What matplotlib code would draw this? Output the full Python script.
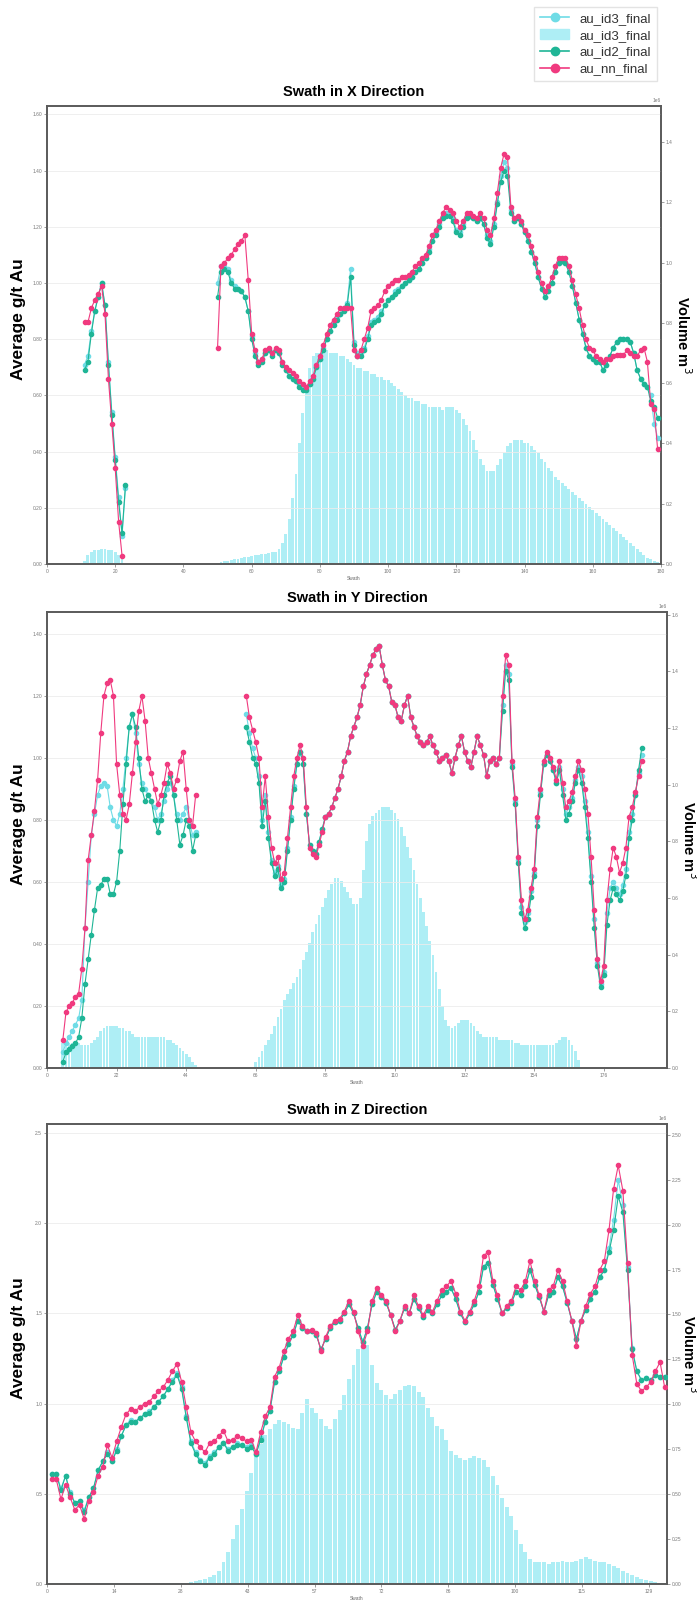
import numpy as np
import matplotlib.pyplot as plt
from matplotlib.lines import Line2D
from matplotlib.patches import Patch
from matplotlib.ticker import MultipleLocator, FixedLocator

plt.rcParams['font.family'] = ['Liberation Sans', 'DejaVu Sans']

C_ID3 = '#6fdce6'
C_VOL = '#aeeef5'
C_ID2 = '#1fb596'
C_NN = '#f03a7f'
N = None

# ---- Swath in X direction (x = 11 .. 179) ----
x_start_x = 11
nn_x = [0.86, 0.86, 0.91, 0.94, 0.96, 0.99, 0.89, 0.66, 0.50, 0.34, 0.15, 0.03, None,
        *[N] * 26,
        0.77, 1.06, 1.07, 1.09, 1.10, 1.12, 1.14, 1.15, 1.17, 1.01,
        0.82, 0.76, 0.72, 0.73, 0.76, 0.77, 0.75, 0.77, 0.76, 0.72,
        0.70, 0.69, 0.68, 0.67, 0.65, 0.64, 0.63, 0.65, 0.67, 0.71,
        0.74, 0.78, 0.82, 0.85, 0.87, 0.89, 0.91, 0.91, 0.91, 0.91,
        0.76, 0.74, 0.76, 0.80, 0.84, 0.90, 0.91, 0.92, 0.94, 0.97,
        0.99, 1.00, 1.01, 1.01, 1.02, 1.02, 1.03, 1.04, 1.06, 1.07,
        1.09, 1.10, 1.13, 1.17, 1.19, 1.22, 1.25, 1.27, 1.26, 1.25,
        1.22, 1.20, 1.22, 1.25, 1.25, 1.24, 1.23, 1.25, 1.23, 1.19,
        1.17, 1.23, 1.32, 1.41, 1.46, 1.45, 1.27, 1.23, 1.24, 1.22,
        1.19, 1.17, 1.13, 1.09, 1.04, 1.00, 0.97, 0.99, 1.02, 1.06,
        1.09, 1.09, 1.09, 1.06, 1.01, 0.96, 0.91, 0.85, 0.80, 0.77,
        0.76, 0.74, 0.73, 0.72, 0.73, 0.73, 0.74, 0.745, 0.745, 0.745,
        0.76, 0.75, 0.74, 0.74, 0.76, 0.77, 0.72, 0.57, 0.55, 0.41]
id2_x = [0.69, 0.72, 0.82, 0.90, 0.95, 1.00, 0.92, 0.71, 0.53, 0.37, 0.22, 0.11, 0.28,
         *[N] * 26,
         0.95, 1.04, 1.05, 1.04, 1.00, 0.98, 0.98, 0.97, 0.95, 0.90,
         0.80, 0.74, 0.71, 0.72, 0.75, 0.76, 0.74, 0.76, 0.75, 0.71,
         0.69, 0.67, 0.66, 0.65, 0.63, 0.62, 0.62, 0.64, 0.66, 0.70,
         0.73, 0.76, 0.80, 0.83, 0.85, 0.87, 0.89, 0.90, 0.92, 1.02,
         0.78, 0.74, 0.74, 0.76, 0.80, 0.85, 0.86, 0.87, 0.89, 0.92,
         0.94, 0.95, 0.96, 0.97, 0.99, 1.00, 1.01, 1.02, 1.04, 1.05,
         1.07, 1.09, 1.11, 1.15, 1.17, 1.20, 1.23, 1.24, 1.24, 1.22,
         1.18, 1.17, 1.20, 1.23, 1.24, 1.23, 1.22, 1.23, 1.21, 1.16,
         1.14, 1.20, 1.28, 1.36, 1.40, 1.38, 1.25, 1.22, 1.23, 1.21,
         1.18, 1.15, 1.11, 1.07, 1.02, 0.98, 0.95, 0.97, 1.00, 1.04,
         1.07, 1.08, 1.07, 1.04, 0.99, 0.93, 0.87, 0.82, 0.77, 0.74,
         0.73, 0.72, 0.72, 0.69, 0.71, 0.74, 0.77, 0.79, 0.80, 0.80,
         0.80, 0.79, 0.75, 0.69, 0.66, 0.64, 0.63, 0.58, 0.56, 0.52]
id3_x = [0.71, 0.74, 0.83, 0.90, 0.95, 1.00, 0.92, 0.72, 0.54, 0.38, 0.24, 0.10, 0.27,
         *[N] * 26,
         1.00, 1.06, 1.06, 1.05, 1.01, 0.99, 0.98, 0.97, 0.95, 0.90,
         0.81, 0.75, 0.72, 0.73, 0.75, 0.76, 0.75, 0.76, 0.75, 0.72,
         0.69, 0.67, 0.66, 0.65, 0.64, 0.63, 0.62, 0.64, 0.66, 0.70,
         0.73, 0.77, 0.80, 0.83, 0.86, 0.88, 0.89, 0.91, 0.93, 1.05,
         0.79, 0.75, 0.75, 0.77, 0.81, 0.86, 0.87, 0.88, 0.90, 0.92,
         0.94, 0.95, 0.97, 0.98, 0.99, 1.00, 1.01, 1.02, 1.04, 1.05,
         1.07, 1.09, 1.12, 1.15, 1.18, 1.21, 1.24, 1.25, 1.25, 1.23,
         1.19, 1.18, 1.21, 1.24, 1.24, 1.23, 1.22, 1.23, 1.21, 1.17,
         1.15, 1.21, 1.29, 1.38, 1.43, 1.41, 1.26, 1.22, 1.23, 1.21,
         1.18, 1.15, 1.11, 1.07, 1.02, 0.98, 0.95, 0.97, 1.00, 1.04,
         1.07, 1.08, 1.07, 1.04, 0.99, 0.93, 0.87, 0.82, 0.77, 0.74,
         0.73, 0.72, 0.72, 0.69, 0.71, 0.74, 0.77, 0.79, 0.80, 0.80,
         0.80, 0.79, 0.75, 0.69, 0.66, 0.64, 0.63, 0.60, 0.50, 0.45]
vol_x = [0.01, 0.03, 0.04, 0.045, 0.048, 0.05, 0.05, 0.048, 0.045, 0.04, 0.03, 0.015, 0.0,
         *[0.0] * 26,
         0.004, 0.006, 0.009, 0.01, 0.013, 0.015, 0.016, 0.02, 0.022, 0.023, 0.026, 0.029, 0.03, 0.033, 0.034, 0.036, 0.039, 0.04,
         0.05, 0.07, 0.10, 0.15, 0.22, 0.30, 0.40, 0.50, 0.58, 0.65, 0.69, 0.70,
         0.70, 0.71, 0.71, 0.70, 0.70, 0.70, 0.69, 0.69, 0.68, 0.67, 0.66, 0.65, 0.65, 0.64,
         0.64, 0.63, 0.63, 0.62, 0.62, 0.61, 0.61, 0.60, 0.59, 0.58, 0.57, 0.56, 0.55, 0.55, 0.54, 0.54, 0.53,
         0.53, 0.52, 0.52, 0.52, 0.52, 0.51, 0.52, 0.52, 0.52, 0.51, 0.50, 0.48, 0.46, 0.44,
         0.41, 0.38, 0.35, 0.33, 0.31, 0.31, 0.31, 0.33, 0.35, 0.37, 0.39,
         0.40, 0.41, 0.41, 0.41, 0.40, 0.40, 0.39, 0.38, 0.37, 0.35, 0.34, 0.32, 0.31, 0.29,
         0.28, 0.27, 0.26, 0.25, 0.24, 0.23, 0.22, 0.21, 0.20, 0.19, 0.18, 0.17, 0.16, 0.15, 0.14,
         0.13, 0.12, 0.11, 0.10, 0.09, 0.08, 0.07, 0.06, 0.05, 0.04, 0.03, 0.02, 0.015, 0.01, 0.005]

# ---- Swath in Y direction (x = 5 .. 188) ----
x_start_y = 5
nn_y = [0.09, 0.18, 0.20, 0.21, 0.23, 0.24, 0.32, 0.45, 0.67, 0.75, 0.83, 0.93, 1.08, 1.20, 1.24, 1.25, 1.20, 0.98, 0.88, 0.82,
        0.80, 0.85, 0.95, 1.05, 1.15, 1.20, 1.12, 1.00, 0.95, 0.90, 0.85, 0.88, 0.92, 0.98, 0.95, 0.90, 0.93, 0.99, 1.02, 0.90,
        0.80, 0.78, 0.88,
        *[N] * 15,
        1.20, 1.13, 1.09, 1.05, 1.00, 0.84, 0.94, 0.81, 0.71, 0.66, 0.68, 0.61, 0.63, 0.74, 0.84, 0.94, 1.00, 1.04, 1.00, 0.84,
        0.71, 0.69, 0.68, 0.72, 0.76, 0.81, 0.82, 0.84, 0.87, 0.90, 0.94, 0.99, 1.02, 1.07, 1.10, 1.13, 1.17, 1.23, 1.27, 1.30,
        1.33, 1.35, 1.36, 1.30, 1.25, 1.23, 1.18, 1.17, 1.13, 1.12, 1.17, 1.20, 1.13, 1.10, 1.07, 1.05, 1.04, 1.05, 1.07, 1.04,
        1.02, 0.99, 1.00, 1.01, 0.99, 0.95, 1.00, 1.04, 1.07, 1.02, 0.99, 0.97, 1.02, 1.07, 1.04, 1.01, 0.94, 0.99, 1.00, 0.98,
        1.00, 1.20, 1.33, 1.30, 0.99, 0.87, 0.68, 0.54, 0.48, 0.51, 0.58, 0.64, 0.81, 0.90, 0.99, 1.02, 1.00, 0.97, 0.93, 0.99,
        0.92, 0.84, 0.86, 0.89, 0.94, 0.99, 0.96, 0.90, 0.82, 0.68, 0.51, 0.35, 0.28, 0.33, 0.54, 0.64, 0.71, 0.68, 0.63, 0.66,
        0.71, 0.81, 0.84, 0.89, 0.94, 0.99]
id2_y = [0.02, 0.05, 0.06, 0.07, 0.08, 0.10, 0.16, 0.27, 0.35, 0.43, 0.51, 0.58, 0.59, 0.61, 0.61, 0.56, 0.56, 0.60, 0.70, 0.85,
         0.98, 1.10, 1.14, 1.10, 1.00, 0.90, 0.86, 0.88, 0.86, 0.80, 0.76, 0.80, 0.88, 0.92, 0.94, 0.88, 0.80, 0.72, 0.75, 0.80,
         0.78, 0.70, 0.75,
         *[N] * 15,
         1.10, 1.05, 1.00, 0.98, 0.92, 0.78, 0.86, 0.74, 0.66, 0.62, 0.64, 0.58, 0.60, 0.70, 0.80, 0.90, 0.98, 1.02, 0.98, 0.82,
         0.72, 0.70, 0.69, 0.73, 0.77, 0.81, 0.82, 0.84, 0.87, 0.90, 0.94, 0.99, 1.02, 1.07, 1.10, 1.13, 1.17, 1.23, 1.27, 1.30,
         1.33, 1.35, 1.36, 1.30, 1.25, 1.23, 1.18, 1.17, 1.13, 1.12, 1.17, 1.20, 1.13, 1.10, 1.07, 1.05, 1.04, 1.05, 1.07, 1.04,
         1.02, 0.99, 1.00, 1.01, 0.99, 0.95, 1.00, 1.04, 1.07, 1.02, 0.99, 0.97, 1.02, 1.07, 1.04, 1.01, 0.94, 0.99, 1.00, 0.98,
         1.00, 1.15, 1.28, 1.25, 0.97, 0.85, 0.66, 0.50, 0.45, 0.48, 0.55, 0.62, 0.78, 0.88, 0.98, 1.01, 0.99, 0.96, 0.92, 0.96,
         0.88, 0.80, 0.82, 0.86, 0.92, 0.96, 0.92, 0.84, 0.74, 0.60, 0.45, 0.33, 0.26, 0.30, 0.46, 0.54, 0.58, 0.56, 0.54, 0.57,
         0.62, 0.74, 0.80, 0.88, 0.96, 1.03]
id3_y = [0.05, 0.08, 0.10, 0.12, 0.14, 0.16, 0.22, 0.45, 0.60, 0.75, 0.82, 0.88, 0.91, 0.92, 0.91, 0.84, 0.80, 0.78, 0.82, 0.90,
         1.00, 1.10, 1.14, 1.08, 0.98, 0.92, 0.90, 0.88, 0.86, 0.84, 0.80, 0.82, 0.86, 0.90, 0.92, 0.88, 0.82, 0.80, 0.82, 0.84,
         0.80, 0.75, 0.76,
         *[N] * 15,
         1.14, 1.08, 1.03, 1.00, 0.94, 0.80, 0.88, 0.76, 0.67, 0.63, 0.65, 0.59, 0.61, 0.71, 0.81, 0.91, 0.98, 1.02, 0.98, 0.82,
         0.72, 0.70, 0.69, 0.73, 0.77, 0.81, 0.82, 0.84, 0.87, 0.90, 0.94, 0.99, 1.02, 1.07, 1.10, 1.13, 1.17, 1.23, 1.27, 1.30,
         1.33, 1.35, 1.36, 1.30, 1.25, 1.23, 1.18, 1.17, 1.13, 1.12, 1.17, 1.20, 1.13, 1.10, 1.07, 1.05, 1.04, 1.05, 1.07, 1.04,
         1.02, 0.99, 1.00, 1.01, 0.99, 0.95, 1.00, 1.04, 1.07, 1.02, 0.99, 0.97, 1.02, 1.07, 1.04, 1.01, 0.94, 0.99, 1.00, 0.98,
         1.00, 1.17, 1.30, 1.27, 0.98, 0.86, 0.67, 0.52, 0.47, 0.50, 0.57, 0.63, 0.80, 0.89, 0.98, 1.01, 0.99, 0.96, 0.92, 0.97,
         0.90, 0.82, 0.84, 0.87, 0.93, 0.97, 0.94, 0.86, 0.76, 0.62, 0.48, 0.34, 0.27, 0.31, 0.50, 0.58, 0.60, 0.58, 0.56, 0.59,
         0.64, 0.76, 0.82, 0.88, 0.95, 1.01]
vol_y = [0.09, 0.09, 0.09, 0.09, 0.09, 0.09, 0.08, 0.08, 0.08, 0.09, 0.10, 0.11, 0.13, 0.14, 0.15, 0.15, 0.15, 0.15, 0.14, 0.14,
         0.13, 0.13, 0.12, 0.11, 0.11, 0.11, 0.11, 0.11, 0.11, 0.11, 0.11, 0.11, 0.11, 0.10, 0.10, 0.09, 0.08, 0.07, 0.06, 0.05,
         0.04, 0.02, 0.01,
         *[0.0] * 15,
         0.0, 0.0, 0.0, 0.02, 0.04, 0.06, 0.08, 0.10, 0.12, 0.15, 0.18, 0.21, 0.24, 0.26, 0.28, 0.30, 0.32, 0.35, 0.38, 0.41,
         0.44, 0.48, 0.51, 0.54, 0.57, 0.60, 0.63, 0.65, 0.67, 0.67, 0.66, 0.64, 0.62, 0.60, 0.58, 0.58, 0.60, 0.70, 0.80, 0.86,
         0.89, 0.90, 0.91, 0.92, 0.92, 0.92, 0.91, 0.90, 0.88, 0.85, 0.82, 0.78, 0.74, 0.70, 0.65, 0.60, 0.55, 0.50, 0.45, 0.40,
         0.34, 0.28, 0.22, 0.17, 0.15, 0.14, 0.15, 0.16, 0.17, 0.17, 0.17, 0.16, 0.15, 0.13, 0.12, 0.11, 0.11, 0.11, 0.11, 0.11,
         0.10, 0.10, 0.10, 0.10, 0.10, 0.09, 0.09, 0.08, 0.08, 0.08, 0.08, 0.08, 0.08, 0.08, 0.08, 0.08, 0.08, 0.08, 0.09, 0.10,
         0.11, 0.11, 0.10, 0.08, 0.06, 0.03]

# ---- Swath in Z direction (x = 1 .. 133) ----
x_start_z = 1
nn_z = [0.58, 0.58, 0.47, 0.55, 0.48, 0.41, 0.44, 0.36, 0.46, 0.51, 0.60, 0.65, 0.77, 0.70, 0.79, 0.87, 0.94, 0.97, 0.96, 0.98,
        1.00, 1.01, 1.04, 1.07, 1.09, 1.13, 1.18, 1.22, 1.12, 0.98, 0.84, 0.79, 0.76, 0.73, 0.78, 0.79, 0.82, 0.85, 0.79, 0.80,
        0.82, 0.81, 0.79, 0.80, 0.73, 0.84, 0.93, 0.98, 1.15, 1.20, 1.29, 1.36, 1.40, 1.49, 1.43, 1.40, 1.41, 1.39, 1.29, 1.37,
        1.43, 1.46, 1.47, 1.51, 1.57, 1.51, 1.40, 1.32, 1.40, 1.57, 1.64, 1.60, 1.57, 1.49, 1.40, 1.46, 1.54, 1.50, 1.60, 1.54,
        1.49, 1.54, 1.51, 1.57, 1.63, 1.65, 1.68, 1.61, 1.51, 1.46, 1.51, 1.57, 1.65, 1.82, 1.84, 1.68, 1.60, 1.50, 1.54, 1.57,
        1.65, 1.63, 1.68, 1.79, 1.68, 1.60, 1.51, 1.63, 1.65, 1.74, 1.68, 1.57, 1.46, 1.32, 1.46, 1.54, 1.61, 1.65, 1.74, 1.79,
        1.96, 2.19, 2.32, 2.18, 1.78, 1.27, 1.11, 1.07, 1.09, 1.12, 1.18, 1.23, 1.09]
id2_z = [0.61, 0.61, 0.52, 0.60, 0.50, 0.45, 0.46, 0.40, 0.48, 0.53, 0.63, 0.68, 0.72, 0.68, 0.74, 0.82, 0.88, 0.90, 0.90, 0.92,
         0.94, 0.95, 0.98, 1.01, 1.04, 1.08, 1.12, 1.16, 1.08, 0.92, 0.78, 0.72, 0.68, 0.66, 0.70, 0.72, 0.76, 0.78, 0.74, 0.76,
         0.77, 0.77, 0.75, 0.76, 0.72, 0.80, 0.90, 0.96, 1.12, 1.18, 1.26, 1.33, 1.38, 1.46, 1.42, 1.40, 1.40, 1.38, 1.30, 1.36,
         1.42, 1.45, 1.46, 1.50, 1.55, 1.50, 1.42, 1.34, 1.42, 1.55, 1.62, 1.59, 1.56, 1.49, 1.41, 1.46, 1.53, 1.50, 1.58, 1.53,
         1.48, 1.52, 1.50, 1.55, 1.60, 1.62, 1.64, 1.58, 1.50, 1.45, 1.50, 1.55, 1.62, 1.76, 1.78, 1.66, 1.58, 1.50, 1.53, 1.56,
         1.62, 1.60, 1.65, 1.74, 1.66, 1.59, 1.51, 1.60, 1.62, 1.70, 1.65, 1.56, 1.46, 1.36, 1.46, 1.52, 1.58, 1.62, 1.70, 1.74,
         1.84, 1.96, 2.15, 2.06, 1.74, 1.30, 1.18, 1.13, 1.14, 1.13, 1.16, 1.15, 1.15]
id3_z = [0.61, 0.61, 0.53, 0.60, 0.51, 0.45, 0.46, 0.41, 0.48, 0.53, 0.63, 0.68, 0.73, 0.68, 0.75, 0.82, 0.88, 0.91, 0.90, 0.92,
         0.94, 0.96, 0.98, 1.01, 1.04, 1.08, 1.13, 1.17, 1.09, 0.93, 0.79, 0.73, 0.69, 0.67, 0.71, 0.73, 0.76, 0.78, 0.75, 0.76,
         0.78, 0.77, 0.76, 0.77, 0.72, 0.81, 0.90, 0.96, 1.12, 1.18, 1.26, 1.33, 1.38, 1.46, 1.42, 1.40, 1.40, 1.38, 1.30, 1.36,
         1.42, 1.45, 1.46, 1.50, 1.55, 1.50, 1.42, 1.34, 1.42, 1.55, 1.62, 1.59, 1.56, 1.49, 1.41, 1.46, 1.53, 1.50, 1.58, 1.53,
         1.48, 1.52, 1.50, 1.55, 1.60, 1.62, 1.64, 1.58, 1.50, 1.45, 1.50, 1.55, 1.62, 1.76, 1.78, 1.66, 1.58, 1.50, 1.53, 1.56,
         1.62, 1.60, 1.65, 1.74, 1.66, 1.59, 1.51, 1.60, 1.62, 1.70, 1.65, 1.56, 1.46, 1.36, 1.46, 1.52, 1.58, 1.62, 1.70, 1.74,
         1.86, 2.02, 2.24, 2.10, 1.76, 1.31, 1.18, 1.13, 1.14, 1.13, 1.16, 1.15, 1.15]
vol_z = [0.005, 0.005, 0.005, 0.005, 0.005, 0.005, 0.005, 0.005, 0.005, 0.005, 0.005, 0.005, 0.005, 0.005, 0.005,
         0.005, 0.005, 0.005, 0.005, 0.005, 0.005, 0.005, 0.005, 0.005, 0.005, 0.005, 0.005, 0.006, 0.007, 0.008, 0.01, 0.015,
         0.02, 0.03, 0.04, 0.05, 0.07, 0.12, 0.18, 0.25, 0.33, 0.42, 0.52, 0.62, 0.72, 0.78, 0.83, 0.86, 0.89, 0.91, 0.90, 0.89,
         0.87, 0.86, 0.95, 1.03, 0.98, 0.95, 0.92, 0.88, 0.86, 0.92, 0.97, 1.05, 1.14, 1.22, 1.31, 1.37, 1.33, 1.22, 1.12, 1.08,
         1.05, 1.03, 1.06, 1.08, 1.10, 1.11, 1.10, 1.07, 1.04, 0.98, 0.93, 0.88, 0.86, 0.80, 0.74, 0.72, 0.70, 0.69, 0.70, 0.71,
         0.70, 0.69, 0.65, 0.60, 0.55, 0.48, 0.43, 0.38, 0.30, 0.22, 0.18, 0.14, 0.12, 0.12, 0.12, 0.11, 0.12, 0.12, 0.13, 0.12,
         0.12, 0.13, 0.14, 0.15, 0.14, 0.13, 0.12, 0.12, 0.11, 0.10, 0.09, 0.07, 0.06, 0.05, 0.04, 0.03, 0.02, 0.015, 0.01,
         0.005, 0.003]

W, H = 697, 1600
fig = plt.figure(figsize=(W / 100, H / 100), dpi=100)


def to_arr(v):
    return np.array([np.nan if a is None else a for a in v], dtype=float)


def panel(box, title, x0, nn, id2, id3, vol, xlim, xticks, ylim, ystep, y2lim, y2step, yfmt, vol_x):
    l, r, t, b = box
    ax = fig.add_axes([l / W, 1 - b / H, (r - l) / W, (b - t) / H])
    ax2 = ax.twinx()
    ax.set_zorder(ax2.get_zorder() + 1)
    ax.patch.set_visible(False)

    x = np.arange(x0, x0 + len(nn))
    ax2.bar(np.arange(x0, x0 + len(vol)), np.array(vol) * 1e6, width=0.85, color=C_VOL, linewidth=0)

    ax.plot(x, to_arr(id3), '-o', color=C_ID3, lw=0.8, ms=3, zorder=3)
    ax.plot(x, to_arr(id2), '-o', color=C_ID2, lw=0.8, ms=3, zorder=4)
    ax.plot(x, to_arr(nn), '-o', color=C_NN, lw=0.8, ms=3, zorder=5)

    ax.set_xlim(*xlim)
    ax.set_ylim(*ylim)
    ax2.set_ylim(y2lim[0] * 1e6, y2lim[1] * 1e6)
    ax.xaxis.set_major_locator(FixedLocator(xticks))
    ax.xaxis.set_major_formatter(plt.FormatStrFormatter('%d'))
    ax.yaxis.set_major_locator(MultipleLocator(ystep))
    ax2.yaxis.set_major_locator(MultipleLocator(y2step * 1e6))
    ax.yaxis.set_major_formatter(plt.FormatStrFormatter(yfmt))

    ax.grid(axis='y', color='#ececec', lw=0.6)
    ax.set_axisbelow(True)
    for a in (ax, ax2):
        for s in a.spines.values():
            s.set_color('#5a5a5a')
            s.set_linewidth(1.2)
        a.tick_params(labelsize=3.5, length=2, width=0.5, colors='#777777', pad=1.5)
    ax2.yaxis.get_offset_text().set_fontsize(3.5)
    ax2.yaxis.get_offset_text().set_color('#777777')

    ax.set_title(title, fontsize=10.5, fontweight='bold', pad=7)
    ax.set_xlabel('Swath', fontsize=3.5, color='#666666', labelpad=1.5)
    ax.set_ylabel('Average g/t Au', fontsize=12.5, fontweight='bold')
    ax.yaxis.set_label_coords(-21 / (r - l), 0.5 + 16 / (b - t))
    fig.text(vol_x / W, 1 - (t + b) / 2 / H, 'Volume m$^3$', rotation=270, ha='center', va='center',
             fontsize=10.5, fontweight='bold')
    return ax


panel((47, 661, 106, 564), 'Swath in X Direction', x_start_x, nn_x, id2_x, id3_x, vol_x,
      (0, 180), np.arange(0, 181, 20), (0, 1.63), 0.2, (0, 1.52), 0.2, '%.2f', 683)
panel((47, 667, 612, 1068), 'Swath in Y Direction', x_start_y, nn_y, id2_y, id3_y, vol_y,
      (0, 196), np.arange(0, 196, 22), (0, 1.47), 0.2, (0, 1.61), 0.2, '%.2f', 689)
panel((47, 667, 1124, 1584), 'Swath in Z Direction', x_start_z, nn_z, id2_z, id3_z, vol_z,
      (0, 133.5), np.arange(0, 131, 14.4), (0, 2.55), 0.5, (0, 2.56), 0.25, '%.1f', 689)

handles = [Line2D([], [], color=C_ID3, marker='o', lw=1.2, ms=6),
           Patch(color=C_VOL),
           Line2D([], [], color=C_ID2, marker='o', lw=1.2, ms=6),
           Line2D([], [], color=C_NN, marker='o', lw=1.2, ms=6)]
labels = ['au_id3_final', 'au_id3_final', 'au_id2_final', 'au_nn_final']
fig.legend(handles, labels, loc='upper right', bbox_to_anchor=(664 / W, 1 - 0 / H), fontsize=9.5,
           frameon=True, edgecolor='#dddddd', fancybox=False, handlelength=2.2, labelspacing=0.35,
           borderpad=0.45, labelcolor='#333333')

fig.savefig('out.png', dpi=100)
